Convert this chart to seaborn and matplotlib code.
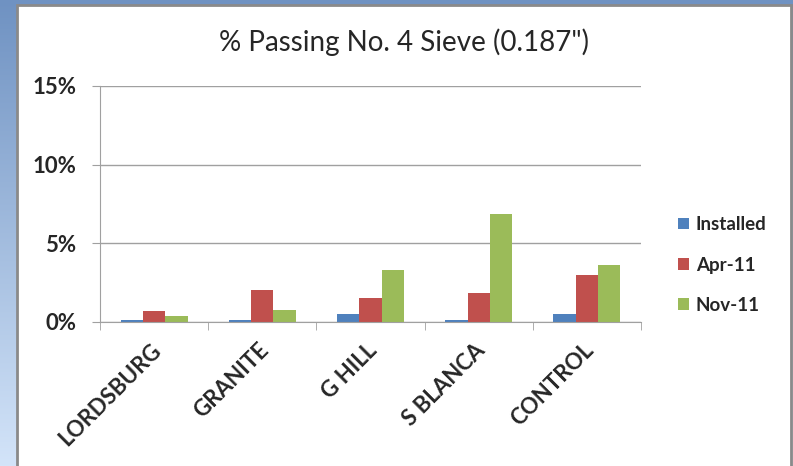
import seaborn as sns
import matplotlib.pyplot as plt
import matplotlib.patches as mpatches
import matplotlib.transforms as mtransforms
import numpy as np
import pandas as pd
from matplotlib.ticker import PercentFormatter

sites = ["LORDSBURG", "GRANITE", "G HILL", "S BLANCA", "CONTROL"]
series = ["Installed", "Apr-11", "Nov-11"]
installed = [0.0015, 0.0015, 0.005, 0.0015, 0.005]
apr_11 = [0.007, 0.0205, 0.0155, 0.0185, 0.030]
nov_11 = [0.004, 0.0075, 0.033, 0.0685, 0.036]
colors = ["#4f81bd", "#c0504d", "#9bbb59"]

df = pd.DataFrame({
    "site": sites * 3,
    "period": [s for s in series for _ in sites],
    "value": installed + apr_11 + nov_11,
})

sns.set_style("white")
plt.rcParams["font.family"] = ["Lato", "DejaVu Sans"]

fig = plt.figure(figsize=(7.93, 4.66), dpi=100)

# slide background: blue gradient with a white panel
bg = fig.add_axes([0, 0, 1, 1], zorder=-10)
grad = np.linspace(0, 1, 256).reshape(-1, 1)
cmap = sns.blend_palette(["#6f92c2", "#d3e4f9"], as_cmap=True)
bg.imshow(grad, aspect="auto", cmap=cmap, extent=[0, 1, 0, 1])
bg.add_patch(mpatches.Rectangle((17 / 793, -0.05), (791 - 17) / 793, 1.05 - 5 / 466,
                                facecolor="white", edgecolor="#8a8a8a", linewidth=2))
bg.set_xlim(0, 1)
bg.set_ylim(0, 1)
bg.axis("off")

ax = fig.add_axes([100 / 793, 1 - 322 / 466, (641 - 100) / 793, (322 - 86) / 466])
sns.barplot(data=df, x="site", y="value", hue="period", order=sites, hue_order=series,
            palette=colors, width=0.62, saturation=1, edgecolor="none", ax=ax)

ax.set_ylim(0, 0.15)
ax.set_xlim(-0.5, 4.5)
ax.set_yticks([0, 0.05, 0.10, 0.15])
ax.yaxis.set_major_formatter(PercentFormatter(1.0, decimals=0))
ax.set_xlabel("")
ax.set_ylabel("")
ax.yaxis.grid(True, color="#a0a0a0", linewidth=1)
ax.set_axisbelow(True)
for s in ["top", "right"]:
    ax.spines[s].set_visible(False)
ax.spines["left"].set_color("#a0a0a0")
ax.spines["bottom"].set_color("#a0a0a0")

ax.tick_params(axis="y", left=True, length=6, color="#a0a0a0", labelsize=16, pad=11)
ax.set_xticks(range(len(sites)))
ax.set_xticklabels(sites, rotation=45, ha="right", rotation_mode="anchor",
                   fontsize=16, fontweight="bold")
ax.tick_params(axis="x", bottom=False, pad=9)
ax.set_xticks(np.arange(-0.5, 5, 1), minor=True)
ax.tick_params(axis="x", which="minor", bottom=True, length=6, color="#a0a0a0")
shift = mtransforms.ScaledTranslation(-4 / 100, 0, fig.dpi_scale_trans)
for lab in ax.get_xticklabels():
    lab.set_transform(lab.get_transform() + shift)
for lab in ax.get_yticklabels():
    lab.set_fontweight("bold")

fig.text(0.51, 1 - 42 / 466, "% Passing No. 4 Sieve (0.187\")", ha="center", va="center",
         fontsize=20)

ax.legend(title=None, loc="center left", bbox_to_anchor=(661 / 793, 1 - 265 / 466),
          bbox_transform=fig.transFigure, frameon=False,
          handlelength=0.6, handleheight=0.6, handletextpad=0.35, labelspacing=1.25,
          prop={"weight": "bold", "size": 13.5})

fig.savefig("out.png", dpi=100)
